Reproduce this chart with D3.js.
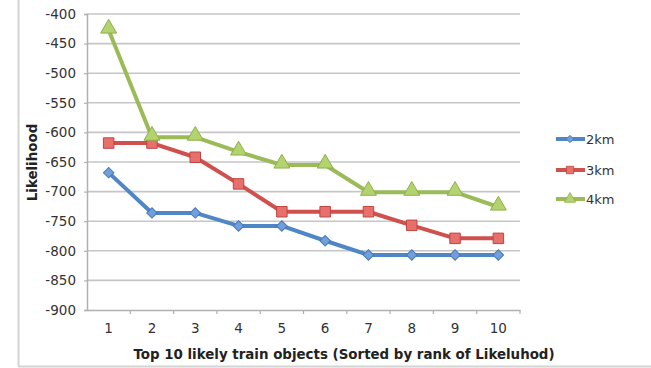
<!DOCTYPE html>
<html><head><meta charset="utf-8">
<script src="https://cdn.jsdelivr.net/npm/d3@7"></script>
<style>body{margin:0;background:#fff}svg{display:block}</style>
</head><body>
<svg id="c" width="651" height="368"></svg>
<script>
const categories = ["1","2","3","4","5","6","7","8","9","10"];
const yTicks = [-400,-450,-500,-550,-600,-650,-700,-750,-800,-850,-900];
const s2km = [-668,-736,-736,-758,-758,-783,-807,-807,-807,-807];
const s3km = [-618,-618,-642,-687,-734,-734,-734,-757,-779,-779];
const s4km = [-427,-608,-608,-633,-655,-655,-701,-701,-701,-726];
const seriesNames = ["2km","3km","4km"];
const seriesColors = ["#4f86c6","#d0504d","#9bbb59"];
const seriesData = [s2km,s3km,s4km];

const svg = d3.select("#c");
const font = "'DejaVu Sans', Verdana, sans-serif";
const L=87, R=520, T=14, B=310;

// frame lines
svg.append("line").attr("x1",18.5).attr("x2",18.5).attr("y1",0).attr("y2",366).attr("stroke","#d4d4d4").attr("stroke-width",2);
svg.append("line").attr("x1",18).attr("x2",651).attr("y1",366.5).attr("y2",366.5).attr("stroke","#d4d4d4").attr("stroke-width",2);

const x = d3.scaleBand().domain(categories).range([L,R]).padding(0);
const y = d3.scaleLinear().domain([-900,-400]).range([B,T]);

// gridlines
svg.append("g").selectAll("line").data(yTicks.filter(v=>v!==-900)).join("line")
  .attr("x1",L).attr("x2",R).attr("y1",d=>y(d)).attr("y2",d=>y(d))
  .attr("stroke","#c6c6c6").attr("stroke-width",1.6);

// y axis
const ya = svg.append("g").attr("transform",`translate(${L},0)`)
  .call(d3.axisLeft(y).tickValues(yTicks).tickSize(3).tickPadding(8).tickFormat(d3.format("d")));
ya.select(".domain").attr("stroke","#b0b0b0").attr("stroke-width",1.5);
ya.selectAll(".tick line").attr("stroke","#b0b0b0").attr("stroke-width",1.2);
ya.selectAll("text").attr("font-family",font).attr("font-size",13.5).attr("fill","#333")
  .text(d=>"-"+Math.abs(d));

// x axis
const xa = svg.append("g").attr("transform",`translate(0,${B})`)
  .call(d3.axisBottom(x).tickSize(0).tickPadding(13));
xa.select(".domain").attr("stroke","#b0b0b0").attr("stroke-width",1.5);
xa.selectAll("text").attr("font-family",font).attr("font-size",13.5).attr("fill","#333");
svg.append("g").selectAll("line").data(categories.slice(1).concat(["end"])).join("line")
  .attr("x1",(d,i)=>L+x.step()*(i+1)).attr("x2",(d,i)=>L+x.step()*(i+1))
  .attr("y1",B).attr("y2",B+4).attr("stroke","#b0b0b0").attr("stroke-width",1.2);

// titles
svg.append("text").attr("x",344).attr("y",359).attr("text-anchor","middle")
  .attr("font-family",font).attr("font-weight","bold").attr("font-size",13.4).attr("fill","#222")
  .text("Top 10 likely train objects (Sorted by rank of Likeluhod)");
svg.append("text").attr("transform","translate(37,162.5) rotate(-90)").attr("text-anchor","middle")
  .attr("font-family",font).attr("font-weight","bold").attr("font-size",13.4).attr("fill","#222")
  .text("Likelihood");

const cx = c => x(c)+x.bandwidth()/2;
const line = d3.line().x((d,i)=>cx(categories[i])).y(d=>y(d));

const symbols = [d3.symbolSquare, d3.symbolSquare, d3.symbolTriangle];
const symRot = [45, 0, 0];
const symSizes = [55, 110, 110];
const fills = ["#6f9fdc","#e8706c","#b2d36e"];
const strokes = ["#4a78b5","#c0443f","#8fb04d"];

seriesData.forEach((data,si)=>{
  const g = svg.append("g");
  g.append("path").datum(data).attr("d",line).attr("fill","none")
    .attr("stroke",seriesColors[si]).attr("stroke-width",4).attr("stroke-linejoin","round");
  g.selectAll("path.m").data(data).join("path").attr("class","m")
    .attr("transform",(d,i)=>`translate(${cx(categories[i])},${y(d)+(si===2?-1.5:0)}) rotate(${symRot[si]})`)
    .attr("d",d3.symbol().type(symbols[si]).size(symSizes[si]))
    .attr("fill",fills[si]).attr("stroke",strokes[si]).attr("stroke-width",1);
});

// legend
const legY = [139,170,199];
seriesNames.forEach((n,i)=>{
  const g = svg.append("g");
  g.append("line").attr("x1",556).attr("x2",585).attr("y1",legY[i]).attr("y2",legY[i])
    .attr("stroke",seriesColors[i]).attr("stroke-width",4);
  g.append("path").attr("transform",`translate(570,${legY[i]}) rotate(${symRot[i]})`)
    .attr("d",d3.symbol().type(symbols[i]).size(symSizes[i]*0.5))
    .attr("fill",fills[i]).attr("stroke",strokes[i]).attr("stroke-width",0.8);
  g.append("text").attr("x",586).attr("y",legY[i]+5).attr("font-family",font)
    .attr("font-size",13).attr("fill","#333").text(n);
});
</script>
</body></html>
